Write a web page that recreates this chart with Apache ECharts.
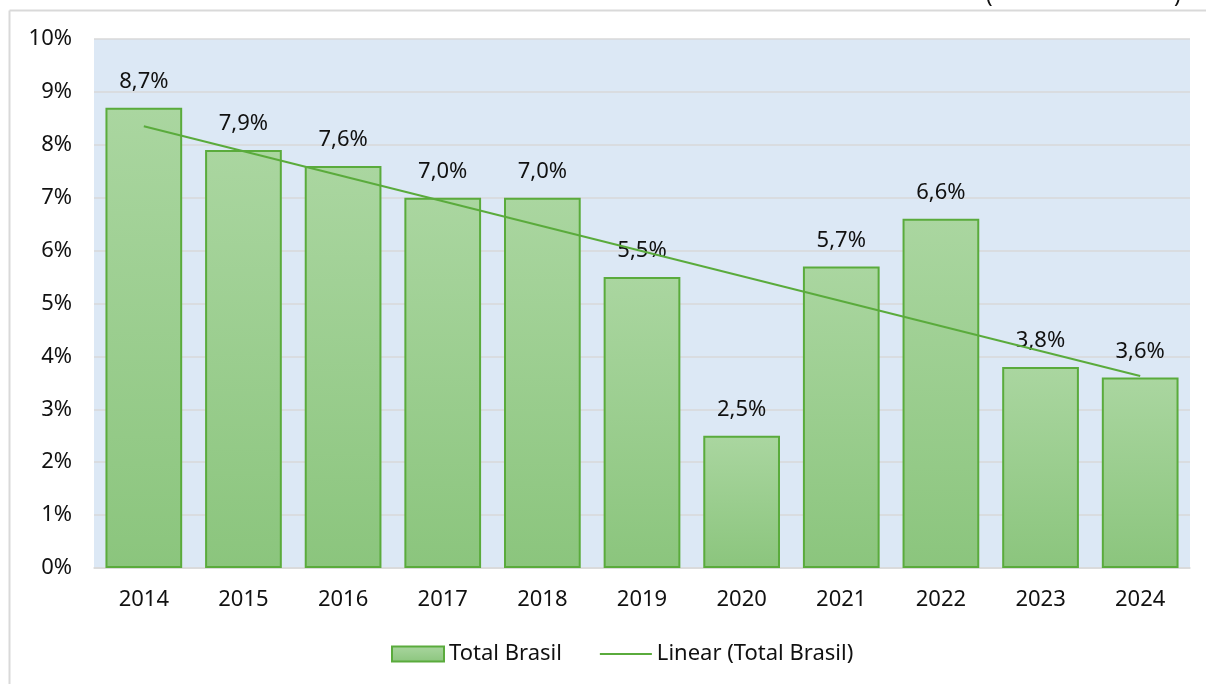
<!DOCTYPE html>
<html>
<head>
<meta charset="utf-8">
<script src="https://cdn.jsdelivr.net/npm/echarts@6/dist/echarts.min.js"></script>
<style>
  html, body { margin: 0; padding: 0; background: #fff; }
  #container { width: 1206px; height: 684px; }
</style>
</head>
<body>
<div id="container"></div>
<script>
var years = ['2014', '2015', '2016', '2017', '2018', '2019', '2020', '2021', '2022', '2023', '2024'];
var totalBrasil = [8.7, 7.9, 7.6, 7.0, 7.0, 5.5, 2.5, 5.7, 6.6, 3.8, 3.6];
// trend line end points
var trendPoints = [['2014', 8.35], ['2024', 3.63]];
var yTicks = [0, 1, 2, 3, 4, 5, 6, 7, 8, 9, 10];

var green = '#5aab3c';
var font = 'Noto Sans';
var fs = 22;

var dom = document.getElementById('container');
var myChart = echarts.init(dom);

var option = {
    backgroundColor: '#ffffff',
    animation: false,
    textStyle: { fontFamily: font },
    graphic: [
        { type: 'line', shape: { x1: 9.5, y1: 10.5, x2: 1206, y2: 10.5 }, style: { stroke: '#d9d9d9', lineWidth: 2 } },
        { type: 'line', shape: { x1: 9.5, y1: 10.5, x2: 9.5, y2: 684 }, style: { stroke: '#d9d9d9', lineWidth: 2 } },
        // cut-off subtitle at the very top (only the bottom of its brackets shows)
        { type: 'text', x: 986, y: 8, style: { text: '(', fontSize: fs, fontFamily: font, fill: '#111', verticalAlign: 'bottom' } },
        { type: 'text', x: 1174, y: 8, style: { text: ')', fontSize: fs, fontFamily: font, fill: '#111', verticalAlign: 'bottom' } }
    ],
    grid: {
        left: 94,
        right: 16,
        top: 39,
        bottom: 116,
        show: true,
        backgroundColor: '#dce8f5',
        borderWidth: 0
    },
    legend: {
        bottom: 14,
        left: 386,
        itemWidth: 52,
        itemHeight: 15,
        itemGap: 38,
        textStyle: { fontSize: fs, color: '#111', fontFamily: font },
        data: [
            { name: 'Total Brasil', icon: 'rect' },
            { name: 'Linear (Total Brasil)', icon: 'path://M0,0 L52,0 L52,2 L0,2 Z', itemStyle: { color: green } }
        ]
    },
    xAxis: {
        type: 'category',
        data: years,
        axisTick: { show: false },
        axisLine: { show: true, lineStyle: { color: '#d9d9d9', width: 1.5 } },
        axisLabel: { fontSize: fs, color: '#111', margin: 21, fontFamily: font }
    },
    yAxis: {
        type: 'value',
        min: yTicks[0],
        max: yTicks[yTicks.length - 1],
        interval: 1,
        axisLine: { show: false },
        axisTick: { show: false },
        axisLabel: { fontSize: fs, color: '#111', margin: 22, fontFamily: font, formatter: '{value}%' },
        splitLine: { lineStyle: { color: '#d9d9d9', width: 1.5 } }
    },
    series: [
        {
            name: 'Total Brasil',
            type: 'bar',
            data: totalBrasil,
            barCategoryGap: '23%',
            itemStyle: {
                color: new echarts.graphic.LinearGradient(0, 0, 0, 1, [
                    { offset: 0, color: '#aad6a0' },
                    { offset: 1, color: '#8bc57d' }
                ]),
                borderColor: green,
                borderWidth: 2
            },
            label: {
                show: true,
                position: 'top',
                distance: 15,
                fontSize: fs,
                color: '#111',
                fontFamily: font,
                formatter: function (p) {
                    return p.value.toFixed(1).replace('.', ',') + '%';
                }
            }
        },
        {
            name: 'Linear (Total Brasil)',
            type: 'line',
            data: trendPoints,
            symbol: 'none',
            z: 5,
            lineStyle: { color: green, width: 2 },
            itemStyle: { color: green }
        }
    ]
};

myChart.setOption(option, true);
</script>
</body>
</html>
